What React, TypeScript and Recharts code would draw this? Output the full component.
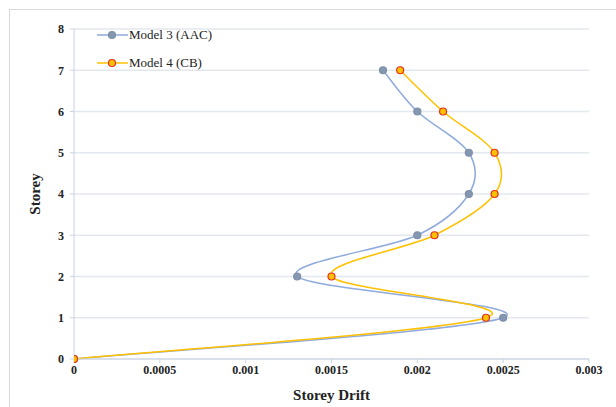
import React from "react";
import {
  LineChart,
  Line,
  XAxis,
  YAxis,
  CartesianGrid,
  Label,
} from "recharts";

// storey levels (y) and drift values (x)
const storeys = [0, 1, 2, 3, 4, 5, 6, 7];
const driftAAC = [0, 0.0025, 0.0013, 0.002, 0.0023, 0.0023, 0.002, 0.0018];
const driftCB = [0, 0.0024, 0.0015, 0.0021, 0.00245, 0.00245, 0.00215, 0.0019];
const xTicks = [0, 0.0005, 0.001, 0.0015, 0.002, 0.0025, 0.003];
const yTicks = [0, 1, 2, 3, 4, 5, 6, 7, 8];

const model3 = storeys.map((s, i) => ({ drift: driftAAC[i], storey: s }));
const model4 = storeys.map((s, i) => ({ drift: driftCB[i], storey: s }));

const series = [
  { name: "Model 3 (AAC)", data: model3, line: "#8FAADC", fill: "#8497B0", stroke: "#7F8FA8" },
  { name: "Model 4 (CB)", data: model4, line: "#FFC000", fill: "#FFC000", stroke: "#E0301E" },
];

// smooth line like the spreadsheet one (catmull-rom through the points, in order)
function smoothCurve(context: any) {
  let pts: number[][] = [];
  return {
    areaStart() {},
    areaEnd() {},
    lineStart() {
      pts = [];
    },
    point(x: number, y: number) {
      pts.push([+x, +y]);
    },
    lineEnd() {
      if (!pts.length) return;
      context.moveTo(pts[0][0], pts[0][1]);
      for (let i = 0; i < pts.length - 1; i++) {
        const p0 = pts[i - 1] || pts[i];
        const p1 = pts[i];
        const p2 = pts[i + 1];
        const p3 = pts[i + 2] || p2;
        context.bezierCurveTo(
          p1[0] + (p2[0] - p0[0]) / 6,
          p1[1] + (p2[1] - p0[1]) / 6,
          p2[0] - (p3[0] - p1[0]) / 6,
          p2[1] - (p3[1] - p1[1]) / 6,
          p2[0],
          p2[1]
        );
      }
    },
  };
}

const font = '"Liberation Serif", "Times New Roman", serif';

function LegendBox() {
  return (
    <div
      style={{
        position: "absolute",
        left: 97,
        top: 21,
        fontFamily: font,
        fontSize: 13,
        color: "#222",
      }}
    >
      {series.map((s) => (
        <div key={s.name} style={{ display: "flex", alignItems: "center", height: 28 }}>
          <svg width={32} height={10}>
            <line x1={0} y1={5} x2={31} y2={5} stroke={s.line} strokeWidth={1.5} />
            <circle cx={15} cy={5} r={3.5} fill={s.fill} stroke={s.stroke} strokeWidth={1.2} />
          </svg>
          <span>{s.name}</span>
        </div>
      ))}
    </div>
  );
}

const tickStyle = { fontFamily: font, fontSize: 12, fontWeight: "bold", fill: "#222" };

export default function App() {
  return (
    <div style={{ position: "absolute", left: 0, top: 0, width: 616, height: 407, background: "#fff", overflow: "hidden" }}>
      <div
        style={{
          position: "absolute",
          left: 9,
          top: 9,
          width: 620,
          height: 420,
          border: "1px solid #D9D9D9",
        }}
      />
      <LineChart
        width={616}
        height={407}
        margin={{ top: 29, right: 27, bottom: 18, left: 34 }}
      >
        <CartesianGrid vertical={false} stroke="#E3E7EE" strokeWidth={1.5} />
        <XAxis
          type="number"
          dataKey="drift"
          domain={[0, 0.003]}
          ticks={xTicks}
          height={30}
          tick={tickStyle}
          stroke="#C9D3E3"
          tickSize={4}
          allowDataOverflow
        >
          <Label
            value="Storey Drift"
            position="insideBottom"
            offset={-11}
            style={{ fontFamily: font, fontSize: 15, fontWeight: "bold", fill: "#222" }}
          />
        </XAxis>
        <YAxis
          type="number"
          dataKey="storey"
          domain={[0, 8]}
          ticks={yTicks}
          width={40}
          tick={tickStyle}
          stroke="#C9D3E3"
          tickSize={4}
          tickMargin={6}
        >
          <Label
            value="Storey"
            angle={-90}
            position="insideLeft"
            offset={1}
            style={{ fontFamily: font, fontSize: 15, fontWeight: "bold", fill: "#222", textAnchor: "middle" }}
          />
        </YAxis>
        {series.map((s) => (
          <Line
            key={s.name}
            name={s.name}
            data={s.data}
            dataKey="storey"
            type={smoothCurve as any}
            stroke={s.line}
            strokeWidth={1.5}
            dot={{ r: 3.5, fill: s.fill, stroke: s.stroke, strokeWidth: 1.2 }}
            activeDot={false}
            isAnimationActive={false}
          />
        ))}
      </LineChart>
      <LegendBox />
    </div>
  );
}
